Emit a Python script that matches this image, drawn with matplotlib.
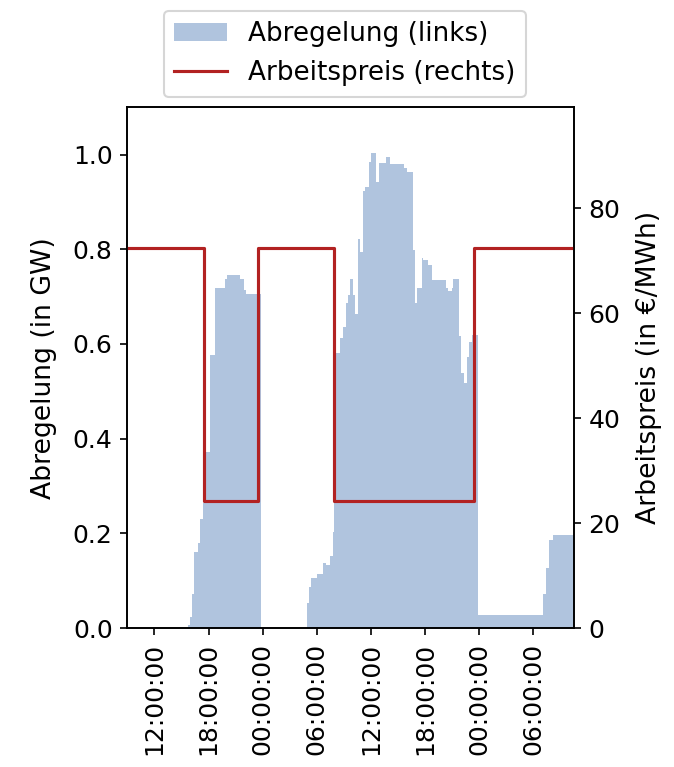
import matplotlib
matplotlib.use('Agg')
import matplotlib.pyplot as plt
import matplotlib.dates as mdates
import numpy as np
import pandas as pd

plt.rcParams['xtick.labelsize'] = 12
plt.rcParams['ytick.labelsize'] = 12
plt.rcParams['axes.labelsize'] = 12.8
plt.rcParams['legend.fontsize'] = 12.6

# Curtailment (GW) as change points: hours since day-1 00:00 -> value from that hour on
curt_hours = [9.0, 15.73, 15.95, 16.17, 16.43, 16.80, 17.09, 17.35, 17.72, 18.13, 18.68,
              19.79, 20.05, 21.52, 21.96, 22.15, 23.81,
              28.90, 29.16, 29.38, 30.01, 30.68, 31.05, 31.49, 31.75, 31.92, 32.52,
              32.89, 33.22, 33.44, 33.70, 34.00, 34.26, 34.51, 34.81, 35.07, 35.36,
              35.73, 36.03, 36.58, 36.84, 37.69, 38.06, 39.61, 39.98, 40.64, 40.90,
              41.09, 41.64, 41.82, 42.30, 42.75, 44.33, 44.59, 44.96, 45.14, 45.77,
              45.99, 46.36, 46.62, 46.88, 47.17, 47.85,
              55.11, 55.37, 55.74, 56.22, 58.5]
curt_gw = [0.0, 0.006, 0.024, 0.072, 0.16, 0.18, 0.23, 0.265, 0.371, 0.576, 0.719,
           0.738, 0.746, 0.737, 0.715, 0.706, 0.0,
           0.053, 0.086, 0.105, 0.114, 0.137, 0.134, 0.152, 0.203, 0.58, 0.613,
           0.635, 0.686, 0.704, 0.738, 0.704, 0.664, 0.821, 0.795, 0.923, 0.931,
           0.985, 1.004, 0.942, 0.982, 0.996, 0.980, 0.971, 0.963, 0.799, 0.686,
           0.719, 0.781, 0.777, 0.766, 0.735, 0.719, 0.711, 0.719, 0.738, 0.616,
           0.539, 0.518, 0.572, 0.605, 0.620, 0.028,
           0.072, 0.126, 0.185, 0.196, 0.196]

# Energy price (EUR/MWh) change points
price_hours = [9.0, 17.46, 23.48, 31.86, 47.40, 58.5]
price_eur = [72.4, 24.2, 72.4, 24.2, 72.4, 72.4]

base = pd.Timestamp('2024-05-11')
t_curt = base + pd.to_timedelta(curt_hours, unit='h')
t_price = base + pd.to_timedelta(price_hours, unit='h')

fig = plt.figure(figsize=(674 / 150, 767 / 150), dpi=150)
ax = fig.add_axes([0.1889, 0.1812, 0.6627, 0.6789])
ax2 = ax.twinx()

fill = ax.fill_between(t_curt, curt_gw, step='post', color='lightsteelblue',
                       linewidth=0, label='Abregelung (links)')
line, = ax2.step(t_price, price_eur, where='post', color='firebrick',
                 linewidth=1.5, label='Arbeitspreis (rechts)')

ax.set_xlim(t_curt[0], t_curt[-1])
ax.set_ylim(0, 1.1)
ax2.set_ylim(0, 99.2)

ax.xaxis.set_major_locator(mdates.HourLocator(byhour=[0, 6, 12, 18]))
ax.xaxis.set_major_formatter(mdates.DateFormatter('%H:%M:%S'))
plt.setp(ax.get_xticklabels(), rotation=90)

ax.set_ylabel('Abregelung (in GW)', labelpad=7.5)
ax2.set_ylabel('Arbeitspreis (in €/MWh)', labelpad=7.5)

ax.legend(handles=[fill, line], loc='lower center', bbox_to_anchor=(0.487, 1.02),
          borderaxespad=0)

fig.savefig('out.png', dpi=150)
